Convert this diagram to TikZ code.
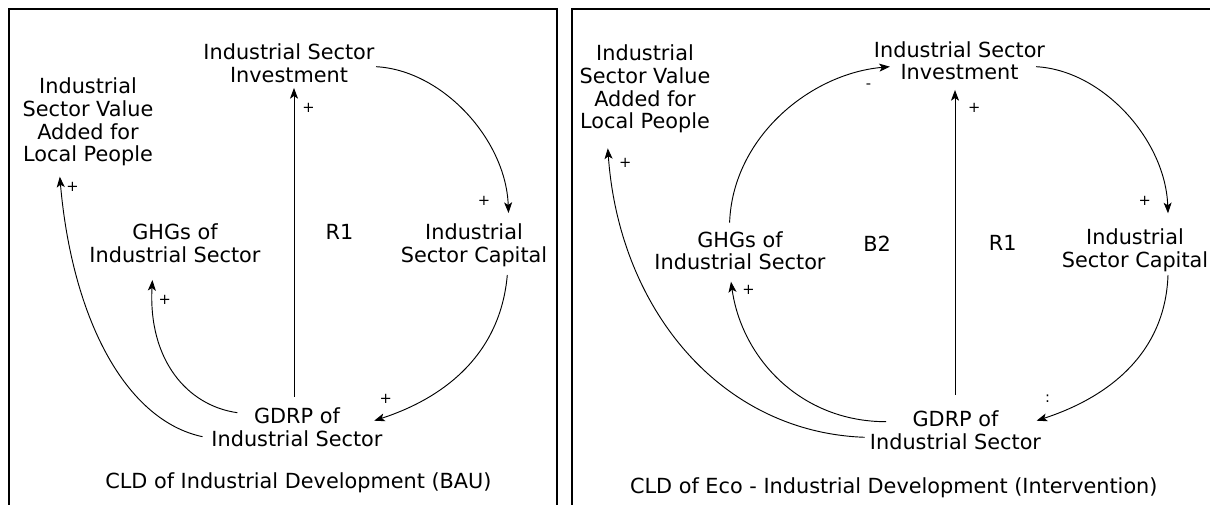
\documentclass[tikz,border=0pt]{standalone}
\usepackage{fontspec}
\setmainfont{DejaVu Sans}
\usetikzlibrary{arrows.meta,calc}
\tikzset{
  lbl/.style={font=\fontsize{15.6}{17}\selectfont, align=center, inner sep=0pt, anchor=north},
  looplbl/.style={font=\fontsize{15.6}{17}\selectfont, inner sep=0pt},
  pol/.style={font=\fontsize{11}{11}\selectfont, inner sep=0pt},
  cld/.style={line width=0.7pt, -{Stealth[length=8pt,width=6pt,inset=2pt]}},
  frame/.style={line width=1.5pt},
}
\begin{document}
\begin{tikzpicture}[x=0.75pt,y=0.75pt]
\useasboundingbox (0,0) rectangle (1210,505);
% frames
\draw[frame] (8.5,0) |- (556.7,495.5) -- (556.7,0);
\draw[frame] (571.7,0) |- (1212,495.5);

% ---------- left panel ----------
\node[lbl] (invL)  at (289,461.6) {Industrial Sector\\Investment};
\node[lbl] (vaL)   at (88,427.3)  {Industrial\\Sector Value\\Added for\\Local People};
\node[lbl] (ghgL)  at (175,281.6) {GHGs of\\Industrial Sector};
\node[lbl] (capL)  at (474,281.6) {Industrial\\Sector Capital};
\node[lbl] (gdrpL) at (297,97.6)  {GDRP of\\Industrial Sector};
\node[looplbl] (r1L) at (339.5,273.3) {R1};
\node[looplbl] (titleL) at (298.4,22.7) {CLD of Industrial Development (BAU)};

\draw[cld] ($(invL.north)+(87,-23.3)$) to[out=-3,in=92,out distance=50pt,in distance=55pt] ($(capL.north)+(34.5,10.4)$);
\draw[cld] ($(capL.north)+(33.3,-51.6)$) to[out=-95,in=18,out distance=60pt,in distance=55pt] ($(gdrpL.north)+(77.2,-13.3)$);
\draw[cld] ($(gdrpL.north)+(-3,10.7)$) -- ($(invL.north)+(5,-44.6)$);
\draw[cld] ($(gdrpL.north)+(-59.7,-5.3)$) to[out=172,in=-93,out distance=38pt,in distance=60pt] ($(ghgL.north)+(-22.6,-56.6)$);
\draw[cld] ($(gdrpL.north)+(-94.5,-29.3)$) to[out=168,in=-85,out distance=59pt,in distance=107pt] ($(vaL.north)+(-28.2,-99)$);

\node[pol] (pL1) at (308.6,397) {+};
\node[pol] (pL2) at (484,304) {+};
\node[pol] (pL3) at (385.8,106) {+};
\node[pol] (pL4) at (164.7,205) {+};
\node[pol] (pL5) at (72.5,318.3) {+};

% ---------- right panel ----------
\node[lbl] (invR)  at (959.5,464) {Industrial Sector\\Investment};
\node[lbl] (vaR)   at (645,460.3) {Industrial\\Sector Value\\Added for\\Local People};
\node[lbl] (ghgR)  at (740,274)   {GHGs of\\Industrial Sector};
\node[lbl] (capR)  at (1135,276.6) {Industrial\\Sector Capital};
\node[lbl] (gdrpR) at (955.5,94.3) {GDRP of\\Industrial Sector};
\node[looplbl] (b2R) at (877,261.7) {B2};
\node[looplbl] (r1R) at (1002.7,261.7) {R1};
\node[looplbl] (titleR) at (893.8,17.7) {CLD of Eco - Industrial Development (Intervention)};

\draw[cld] ($(invR.north)+(76.5,-25.7)$) to[out=-3,in=92,out distance=50pt,in distance=55pt] ($(capR.north)+(33,15.1)$);
\draw[cld] ($(capR.north)+(33,-46.6)$) to[out=-92,in=18,out distance=60pt,in distance=55pt] ($(gdrpR.north)+(81.1,-10)$);
\draw[cld] ($(gdrpR.north)+(-0.5,15.7)$) -- ($(invR.north)+(-4.5,-49)$);
\draw[cld] ($(ghgR.north)+(-10.4,8.3)$) to[out=88,in=185,out distance=64pt,in distance=60pt] ($(invR.north)+(-69.6,-25.7)$);
\draw[cld] ($(gdrpR.north)+(-69.5,-11)$) to[out=180,in=-82,out distance=64pt,in distance=58pt] ($(ghgR.north)+(-9,-50.7)$);
\draw[cld] ($(gdrpR.north)+(-90.9,-26.6)$) to[out=178,in=-86,out distance=108pt,in distance=121pt] ($(vaR.north)+(-37.2,-103.6)$);

\node[pol] (pR1) at (974.3,396.7) {+};
\node[pol] (pR2) at (1144.7,304) {+};
\node[pol] (pR3) at (1047.5,106.7) {:};
\node[pol] (pR4) at (868.5,418.3) {-};
\node[pol] (pR5) at (748.6,215) {+};
\node[pol] (pR6) at (625.3,341.7) {+};
\end{tikzpicture}
\end{document}
